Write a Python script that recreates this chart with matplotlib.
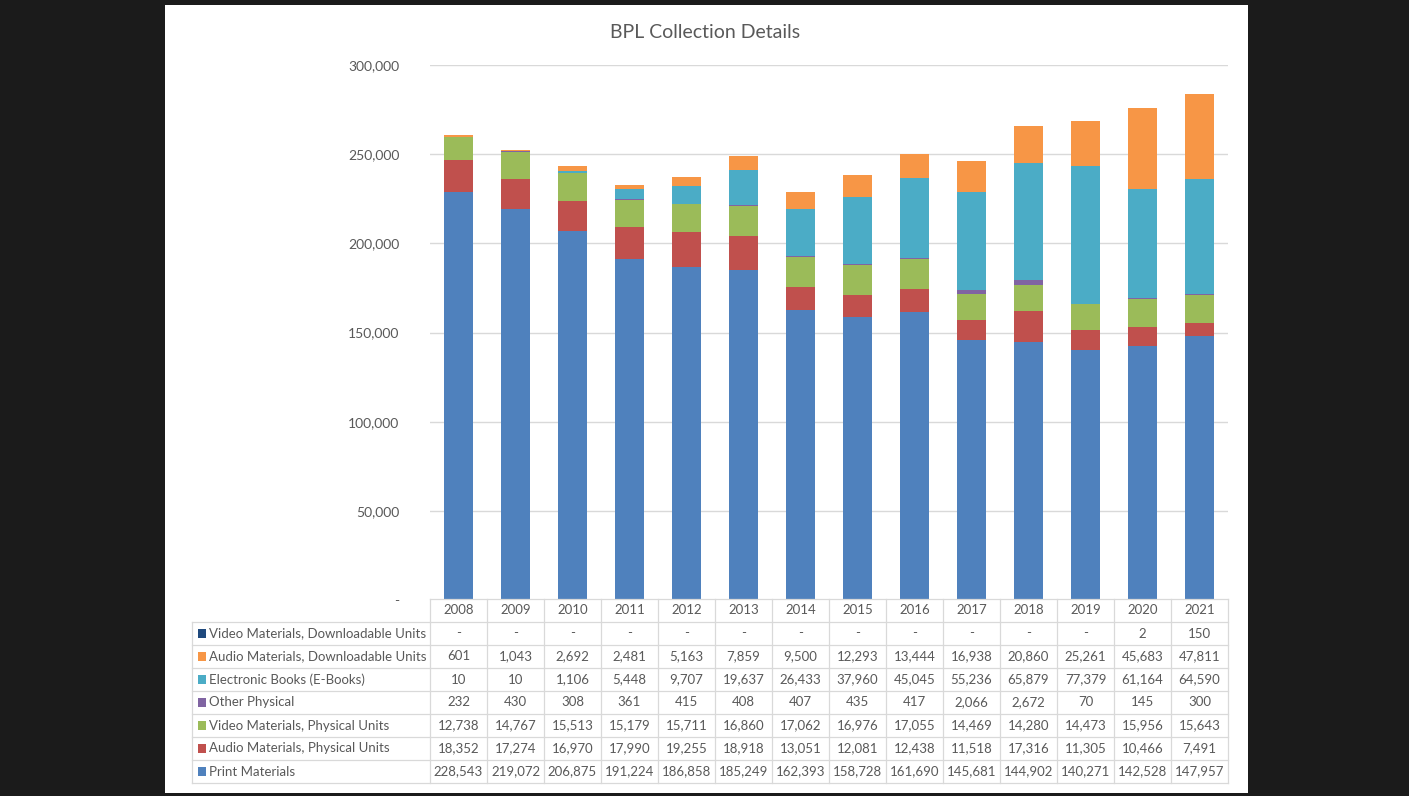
import numpy as np
import matplotlib
matplotlib.use("Agg")
import matplotlib.pyplot as plt
from matplotlib.patches import Rectangle

plt.rcParams['font.family'] = ['Lato', 'DejaVu Sans']

years = ["2008", "2009", "2010", "2011", "2012", "2013", "2014",
         "2015", "2016", "2017", "2018", "2019", "2020", "2021"]

print_materials = [228543, 219072, 206875, 191224, 186858, 185249, 162393,
                   158728, 161690, 145681, 144902, 140271, 142528, 147957]
audio_physical = [18352, 17274, 16970, 17990, 19255, 18918, 13051,
                  12081, 12438, 11518, 17316, 11305, 10466, 7491]
video_physical = [12738, 14767, 15513, 15179, 15711, 16860, 17062,
                  16976, 17055, 14469, 14280, 14473, 15956, 15643]
other_physical = [232, 430, 308, 361, 415, 408, 407,
                  435, 417, 2066, 2672, 70, 145, 300]
ebooks = [10, 10, 1106, 5448, 9707, 19637, 26433,
          37960, 45045, 55236, 65879, 77379, 61164, 64590]
audio_download = [601, 1043, 2692, 2481, 5163, 7859, 9500,
                  12293, 13444, 16938, 20860, 25261, 45683, 47811]
video_download = [0, 0, 0, 0, 0, 0, 0, 0, 0, 0, 0, 0, 2, 150]

# bottom to top in the stack
series = [
    ("Print Materials", print_materials, "#4f81bd"),
    ("Audio Materials, Physical Units", audio_physical, "#c0504d"),
    ("Video Materials, Physical Units", video_physical, "#9bbb59"),
    ("Other Physical", other_physical, "#8064a2"),
    ("Electronic Books (E-Books)", ebooks, "#4bacc6"),
    ("Audio Materials, Downloadable Units", audio_download, "#f79646"),
    ("Video Materials, Downloadable Units", video_download, "#1f497d"),
]

W, H = 1409, 796
fig = plt.figure(figsize=(W / 100, H / 100), dpi=100)
fig.patch.set_facecolor("#1b1b1b")

# white slide panel on a background axes
bg = fig.add_axes([0, 0, 1, 1], zorder=-5)
bg.set_xlim(0, W)
bg.set_ylim(H, 0)
bg.axis("off")
bg.add_patch(Rectangle((165, 5), 1248 - 165, 793 - 5, facecolor="white",
                       edgecolor="none"))

txt = "#595959"
grid = "#d9d9d9"

# chart axes
ax = fig.add_axes([430 / W, 1 - 600 / H, 798 / W, 535 / H])
x = np.arange(len(years))
bottom = np.zeros(len(years))
for name, vals, col in series:
    vals = np.array(vals, dtype=float)
    ax.bar(x, vals, 0.52, bottom=bottom, color=col, zorder=3)
    bottom += vals

ax.set_xlim(-0.5, len(years) - 0.5)
ax.set_ylim(0, 300000)
ax.set_yticks(np.arange(0, 300001, 50000))
ax.set_yticklabels(["-"] + [f"{v:,}" for v in range(50000, 300001, 50000)])
ax.tick_params(axis="y", length=0, pad=22, labelsize=10, labelcolor=txt)
ax.set_xticks([])
ax.grid(axis="y", color=grid, linewidth=1, zorder=0)
for s in ax.spines.values():
    s.set_visible(False)
ax.patch.set_alpha(0)

fig.text(705 / W, 1 - 33 / H, "BPL Collection Details", ha="center", va="center",
         fontsize=14, color=txt)

# data table below
left_px, right_px = 192, 1228
top_px, bot_px = 599, 783
col_px = 798 / len(years)
label_units = (430 - left_px) / col_px
tax = fig.add_axes([left_px / W, 1 - bot_px / H, (right_px - left_px) / W,
                    (bot_px - top_px) / H])
tax.set_xlim(-0.5 - label_units, len(years) - 0.5)
tax.set_ylim(8, 0)
tax.axis("off")

xl = -0.5 - label_units
xr = len(years) - 0.5
lw = 0.9
tax.plot([-0.5, xr], [0, 0], color=grid, lw=lw, clip_on=False)
for r in range(1, 9):
    tax.plot([xl, xr], [r, r], color=grid, lw=lw, clip_on=False)
tax.plot([xl, xl], [1, 8], color=grid, lw=lw, clip_on=False)
for k in range(len(years) + 1):
    tax.plot([-0.5 + k, -0.5 + k], [0, 8], color=grid, lw=lw, clip_on=False)

for i, yr in enumerate(years):
    tax.text(i, 0.5, yr, ha="center", va="center", fontsize=9.5, color=txt)

for r, (name, vals, col) in enumerate(reversed(series)):
    yc = r + 1.5
    tax.add_patch(Rectangle((xl + 0.1, yc - 0.2), 0.14, 0.4, facecolor=col,
                            edgecolor="none"))
    tax.text(xl + 0.3, yc, name, ha="left", va="center", fontsize=9.5, color=txt)
    for i, v in enumerate(vals):
        s = "-" if v == 0 else f"{v:,}"
        tax.text(i, yc, s, ha="center", va="center", fontsize=9.5, color=txt)

fig.savefig("out.png", dpi=100, facecolor=fig.get_facecolor())
